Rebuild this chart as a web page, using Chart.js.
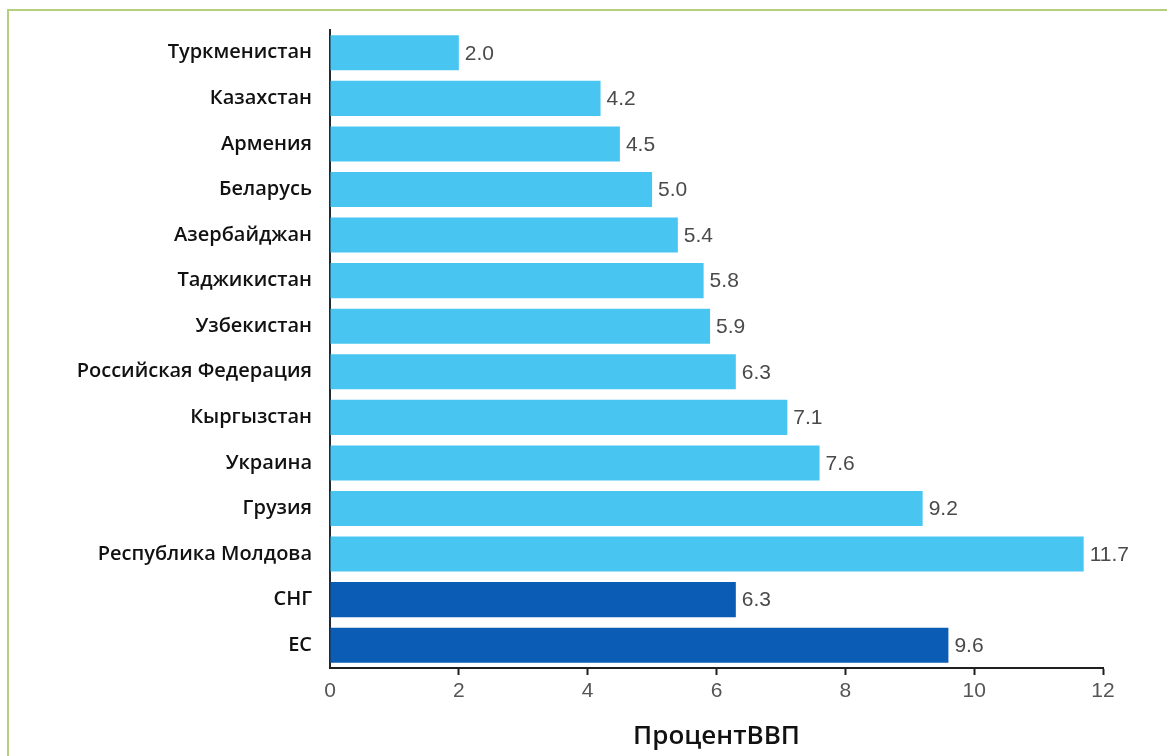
<!DOCTYPE html>
<html>
<head>
<meta charset="utf-8">
<script src="https://cdn.jsdelivr.net/npm/chart.js@4/dist/chart.umd.min.js"></script>
<style>
  html, body { margin: 0; padding: 0; background: #fff; overflow: hidden; }
  #frame { position: absolute; left: 7px; top: 9px; width: 1300px; height: 900px;
           border-left: 2px solid #b6cf7e; border-top: 2px solid #b6cf7e; box-sizing: border-box; }
  #wrap { position: absolute; left: 0; top: 0; width: 1167px; height: 756px; }
</style>
</head>
<body>
<div id="frame"></div>
<div id="wrap"><canvas id="c" width="1167" height="756"></canvas></div>
<script>
const categories = ["Туркменистан", "Казахстан", "Армения", "Беларусь", "Азербайджан", "Таджикистан",
  "Узбекистан", "Российская Федерация", "Кыргызстан", "Украина", "Грузия", "Республика Молдова", "СНГ", "ЕС"];
const values = [2.0, 4.2, 4.5, 5.0, 5.4, 5.8, 5.9, 6.3, 7.1, 7.6, 9.2, 11.7, 6.3, 9.6];
const groups = ["country", "country", "country", "country", "country", "country",
  "country", "country", "country", "country", "country", "country", "aggregate", "aggregate"];
const xTicks = [0, 2, 4, 6, 8, 10, 12];
const axisTitle = "ПроцентВВП";

const colorMap = { country: "#48c6f1", aggregate: "#0b5cb5" };

const valueLabels = {
  id: "valueLabels",
  afterDatasetsDraw(chart) {
    const ctx = chart.ctx;
    const meta = chart.getDatasetMeta(0);
    ctx.save();
    ctx.font = "21px 'Liberation Sans', Arial, sans-serif";
    ctx.fillStyle = "#4a4a4a";
    ctx.textAlign = "left";
    ctx.textBaseline = "middle";
    meta.data.forEach((bar, i) => {
      ctx.fillText(values[i].toFixed(1), bar.x + 6, bar.y + 1);
    });
    ctx.restore();
  }
};

new Chart(document.getElementById("c"), {
  type: "bar",
  data: {
    labels: categories,
    datasets: [{
      data: values,
      backgroundColor: groups.map(g => colorMap[g]),
      borderWidth: 0,
      barPercentage: 0.77,
      categoryPercentage: 1.0
    }]
  },
  options: {
    indexAxis: "y",
    responsive: false,
    animation: false,
    devicePixelRatio: 1,
    layout: { padding: { left: 0, right: 64, top: 30, bottom: 0 } },
    plugins: { legend: { display: false }, tooltip: { enabled: false } },
    scales: {
      y: {
        z: 1,
        grid: { display: false, drawTicks: false },
        border: { display: true, color: "#1f2a33", width: 2 },
        ticks: {
          color: "#111",
          padding: 18,
          font: { family: "'Open Sans', sans-serif", size: 20, weight: "600" }
        },
        afterFit(scale) { scale.width = 330; }
      },
      x: {
        min: 0, max: 12,
        afterBuildTicks(scale) { scale.ticks = xTicks.map(v => ({ value: v })); },
        grid: {
          drawOnChartArea: false, drawTicks: true, tickLength: 7, tickWidth: 2,
          tickColor: (ctx) => (ctx.index === 0 ? "rgba(0,0,0,0)" : "#1f1f1f")
        },
        border: { display: true, color: "#1f1f1f", width: 2 },
        ticks: {
          color: "#555",
          padding: 4,
          font: { family: "'Liberation Sans', Arial, sans-serif", size: 21 }
        },
        title: {
          display: true,
          text: axisTitle,
          color: "#111",
          padding: { top: 0, bottom: 4 },
          font: { family: "'Open Sans', sans-serif", size: 26, weight: "600" }
        },
        afterFit(scale) { scale.height = 88; }
      }
    }
  },
  plugins: [valueLabels]
});
</script>
</body>
</html>
